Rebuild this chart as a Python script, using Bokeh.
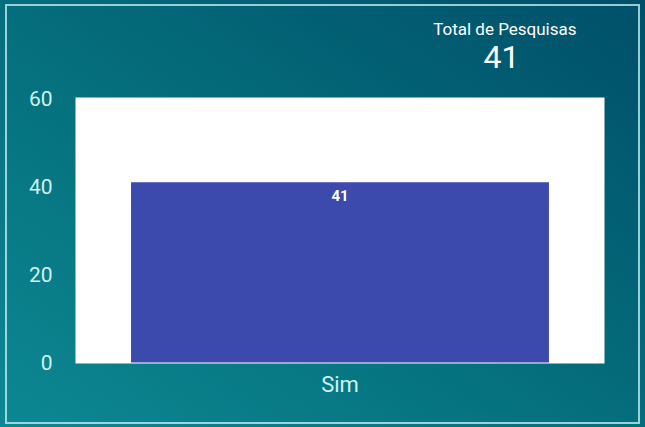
from bokeh.plotting import figure
from bokeh.models import Range1d, FactorRange, Title, GlobalInlineStyleSheet, ColumnDataSource
from bokeh.core.properties import value
from bokeh.embed import file_html
from bokeh.resources import INLINE

categories = ["Sim"]
values = [41]
y_ticks = [0, 20, 40, 60]
title_text = "Total de Pesquisas"
total = sum(values)

css = """
html { min-height: 100%; overflow: hidden; background: linear-gradient(to top right, #0c8892 0%, #05707e 45%, #004f69 100%); }
body { margin: 0; background: transparent; overflow: hidden; }
html::after { content: ""; position: fixed; left: 5px; top: 4px; width: 635px; height: 420px;
  border: 2px solid rgba(190, 235, 240, 0.8); box-sizing: border-box; pointer-events: none; }
"""

p = figure(width=645, height=427, x_range=FactorRange(*categories, range_padding=0),
           y_range=Range1d(-0.2, 60.3), output_backend="svg", toolbar_location=None,
           min_border_left=75, min_border_right=41, min_border_top=97, min_border_bottom=64)
p.stylesheets = [GlobalInlineStyleSheet(css=css)]
p.border_fill_color = None
p.outline_line_color = None
p.background_fill_color = "white"
p.grid.visible = False

src = ColumnDataSource(dict(x=categories, top=values, lab=[str(v) for v in values]))
p.vbar(x="x", top="top", bottom=0, width=0.79, source=src, fill_color="#3c4aad", line_color=None)
p.text(x="x", y="top", text="lab", source=src, y_offset=13, text_align="center",
       text_baseline="middle", text_color="white", text_font=value("Roboto"),
       text_font_size="15px", text_font_style="bold")

p.yaxis.ticker = y_ticks
for ax in (p.xaxis, p.yaxis):
    ax.axis_line_color = None
    ax.major_tick_line_color = None
    ax.minor_tick_line_color = None
    ax.major_label_text_color = "#cdf3f2"
    ax.major_label_text_font = "Roboto"
    ax.major_label_text_font_size = "21px"
p.xaxis.major_label_text_font_size = "22px"
p.yaxis.major_label_standoff = 17
p.xaxis.major_label_standoff = 2

spacer = Title(text=" ", text_font_size="1px", standoff=22)
t_total = Title(text=str(total), align="right", offset=85, text_color="white",
                text_font="Roboto", text_font_size="32px", text_font_style="normal",
                standoff=10)
t_head = Title(text=title_text, align="right", offset=28, text_color="white",
               text_font="Roboto", text_font_size="17px", text_font_style="normal",
               standoff=0)
p.add_layout(spacer, "above")
p.add_layout(t_total, "above")
p.add_layout(t_head, "above")

open("out.html", "w").write(file_html(p, INLINE))
